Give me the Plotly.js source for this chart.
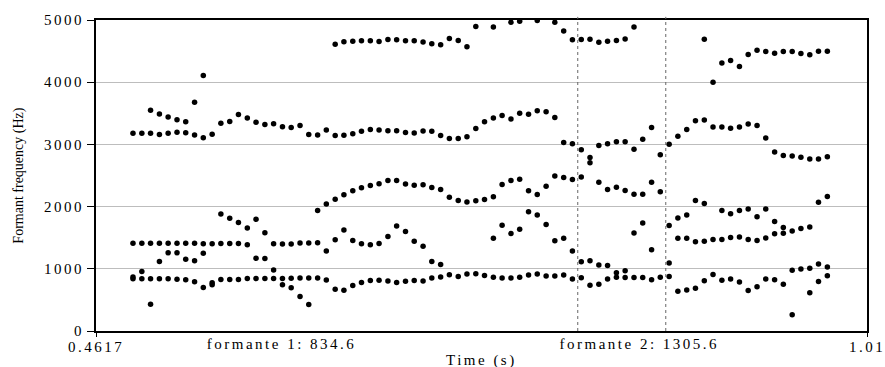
<!DOCTYPE html>
<html>
<head>
<meta charset="utf-8">
<script src="https://cdn.plot.ly/plotly-3.0.1.min.js"></script>
<style>
html, body { margin: 0; padding: 0; background: #fff; }
#chart { width: 885px; height: 367px; }
</style>
</head>
<body>
<div id="chart"></div>
<script>
// Frame times (s)
const times = [0.4880, 0.4943, 0.5005, 0.5068, 0.5130, 0.5193, 0.5255, 0.5318, 0.5380, 0.5443,
  0.5505, 0.5568, 0.5630, 0.5693, 0.5755, 0.5818, 0.5880, 0.5943, 0.6005, 0.6068,
  0.6130, 0.6193, 0.6255, 0.6318, 0.6380, 0.6443, 0.6505, 0.6568, 0.6630, 0.6693,
  0.6755, 0.6818, 0.6880, 0.6943, 0.7005, 0.7068, 0.7130, 0.7193, 0.7255, 0.7318,
  0.7380, 0.7443, 0.7505, 0.7568, 0.7630, 0.7693, 0.7755, 0.7818, 0.7880, 0.7943,
  0.8005, 0.8068, 0.8130, 0.8193, 0.8255, 0.8318, 0.8380, 0.8443, 0.8505, 0.8568,
  0.8630, 0.8693, 0.8755, 0.8818, 0.8880, 0.8943, 0.9005, 0.9068, 0.9130, 0.9193,
  0.9255, 0.9318, 0.9380, 0.9443, 0.9505, 0.9568, 0.9630, 0.9693, 0.9755, 0.9818];

// Formant values (Hz), one per frame; null = not shown
const f1 = [840, 840, 430, 840, 840, 834, 824, 792, 701, 745,
  829, 829, 829, 843, 843, 843, 843, 745, 695, 554,
  428, 853, 818, 670, 656, 733, 781, 813, 815, 805,
  779, 800, 811, 803, 854, 867, 905, 878, 918, 921,
  891, 865, 854, 854, 865, 902, 918, 886, 883, 902,
  838, 856, 734, 752, 838, 865, 862, 862, 862, 825,
  865, 878, 640, 659, 688, 806, 908, 817, 838, 788,
  650, 713, 836, 825, 750, 260, 996, 613, 795, 889];

const f2 = [870, 955, 840, 1118, 1257, 1257, 1155, 1128, 1251, 775,
  1407, 1407, 1407, 1385, 1168, 1167, 980, 845, 848, 854,
  853, 1418, 1285, 1467, 1622, 1453, 1403, 1387, 1408, 1518,
  1689, 1600, 1442, 1362, 1119, 1068, 2152, 2099, 2075, 2096,
  2115, 1493, 1700, 1566, 1635, 1919, 1866, 1713, 1451, 1491,
  1288, 1114, 1130, 1063, 1052, 937, 969, 1577, 1735, 1306,
  2240, 1093, 1491, 1491, 1435, 1443, 1472, 1472, 1504, 1510,
  1470, 1456, 1494, 1564, 1572, 978, 1649, 1009, 1079, 1028];

const f3 = [1412, 1412, 1412, 1412, 1412, 1412, 1412, 1412, 1401, 1401,
  1880, 1813, 1743, 1655, 1795, 1580, 1401, 1398, 1400, 1413,
  1416, 1938, 2043, 2120, 2192, 2254, 2305, 2340, 2369, 2418,
  2418, 2364, 2342, 2353, 2307, 2275, 3094, 3096, 3121, 3257,
  3365, 2158, 2355, 2420, 2441, 2254, 2195, 2326, 2492, 2468,
  2437, 2474, 2706, 2393, 2275, 2313, 2259, 2200, 2200, 2393,
  2832, 1695, 1815, 1863, 2098, 2050, 3279, 1938, 1885, 1938,
  1960, 1837, 1960, 1762, 1665, 1609, 2795, 1673, 2069, 2163];

const f4 = [3180, 3180, 3180, 3160, 3178, 3194, 3188, 3153, 3105, 3165,
  3342, 3368, 3482, 3424, 3357, 3320, 3330, 3282, 3272, 3304,
  3160, 3150, 3231, 3143, 3148, 3172, 3210, 3239, 3231, 3218,
  3220, 3193, 3182, 3215, 3212, 3143, 4703, 4671, 4570, 4895,
  null, 3425, 3466, 3410, 3501, 3485, 3541, 3525, 3431, 3030,
  3011, 2913, 2790, 2982, 3009, 3041, 3041, 2924, 3081, 3271,
  null, 3001, 3132, 3239, 3381, 3392, 3999, 3279, 3258, 3279,
  3326, 3303, 3103, 2876, 2822, 2813, 4460, 2766, 2766, 2803];

const f5 = [null, null, 3550, 3488, 3442, 3395, 3365, 3678, 4106, null,
  null, null, null, null, null, null, null, null, null, null,
  null, null, null, 4610, 4650, 4660, 4668, 4668, 4655, 4687,
  4682, 4668, 4665, 4645, 4618, 4602, null, null, null, null,
  null, 4886, null, 4963, 4979, null, 4990, null, 4963, 4824,
  4684, 4685, 4690, 4642, 4660, 4672, 4695, 4888, null, null,
  null, null, null, null, null, 4692, null, 4310, 4350, 4251,
  4444, 4514, 4492, 4466, 4492, 4492, null, 4441, 4497, 4497];

const formants = [f1, f2, f3, f4, f5];

// Axis range and labels
const xRange = [0.4617, 1.01];
const xTickVals = [0.4617, 1.01];
const xTickText = ['0.4617', '1.01'];
const yTickVals = [0, 1000, 2000, 3000, 4000, 5000];
const yTickText = ['0', '1000', '2000', '3000', '4000', '5000'];

// Cursors and their labels
const cursorTimes = [0.8043, 0.8669];
const cursorLabels = ['formante 1: 834.6', 'formante 2: 1305.6'];
const cursorLabelPos = [0.5939, 0.8484];

const FONT = '"Liberation Serif", "Times New Roman", Times, serif';

const traces = formants.map(f => ({
  type: 'scatter',
  mode: 'markers',
  x: times,
  y: f,
  marker: { color: '#000', size: 5.5, symbol: 'circle', line: { width: 0 } },
  showlegend: false,
  hoverinfo: 'x+y'
}));

const shapes = cursorTimes.map(t => ({
  type: 'line', xref: 'x', yref: 'paper',
  x0: t, x1: t, y0: 0, y1: 1.01,
  line: { color: '#666', width: 1, dash: 'dot' },
  layer: 'above'
}));

const annotations = cursorLabels.map((txt, i) => ({
  text: txt, xref: 'x', yref: 'paper',
  x: cursorLabelPos[i], y: -0.042,
  xanchor: 'center', yanchor: 'middle',
  showarrow: false,
  font: { family: FONT, size: 15, color: '#000' }
}));
annotations.push({
  text: 'Time (s)', xref: 'paper', yref: 'paper',
  x: 0.5006, y: -0.096, xanchor: 'center', yanchor: 'middle',
  showarrow: false, font: { family: FONT, size: 15, color: '#000' }
});
annotations.push({
  text: 'Formant frequency (Hz)', xref: 'paper', yref: 'paper',
  x: -0.101, y: 0.5, xanchor: 'center', yanchor: 'middle', textangle: -90,
  showarrow: false, font: { family: FONT, size: 14, color: '#000' }
});

const layout = {
  width: 885, height: 367,
  margin: { l: 96, r: 18, t: 20, b: 36, pad: 0 },
  paper_bgcolor: '#fff', plot_bgcolor: '#fff',
  font: { family: FONT, size: 15, color: '#000' },
  xaxis: {
    range: xRange, tickmode: 'array', tickvals: xTickVals, ticktext: xTickText,
    ticks: 'outside', ticklen: 4, tickwidth: 1, tickcolor: '#000',
    ticklabelstandoff: -3,
    showgrid: false, zeroline: false,
    showline: true, linecolor: '#000', linewidth: 2, mirror: true,
    tickfont: { family: FONT, size: 15, color: '#000' }
  },
  yaxis: {
    range: [0, 5000], tickmode: 'array', tickvals: yTickVals, ticktext: yTickText,
    ticks: 'outside', ticklen: 7, tickwidth: 1, tickcolor: '#000',
    showgrid: true, gridcolor: '#bdbdbd', gridwidth: 1, zeroline: false,
    showline: true, linecolor: '#000', linewidth: 2, mirror: true,
    tickfont: { family: FONT, size: 15, color: '#000' }
  },
  shapes: shapes,
  annotations: annotations
};

Plotly.newPlot('chart', traces, layout, { displayModeBar: false, staticPlot: true }).then(() => {
  document.querySelectorAll('.xtick text, .ytick text, .annotation-text').forEach(t => {
    if (!t.textContent.startsWith('Formant')) t.style.letterSpacing = '2.5px';
  });
});
</script>
</body>
</html>
